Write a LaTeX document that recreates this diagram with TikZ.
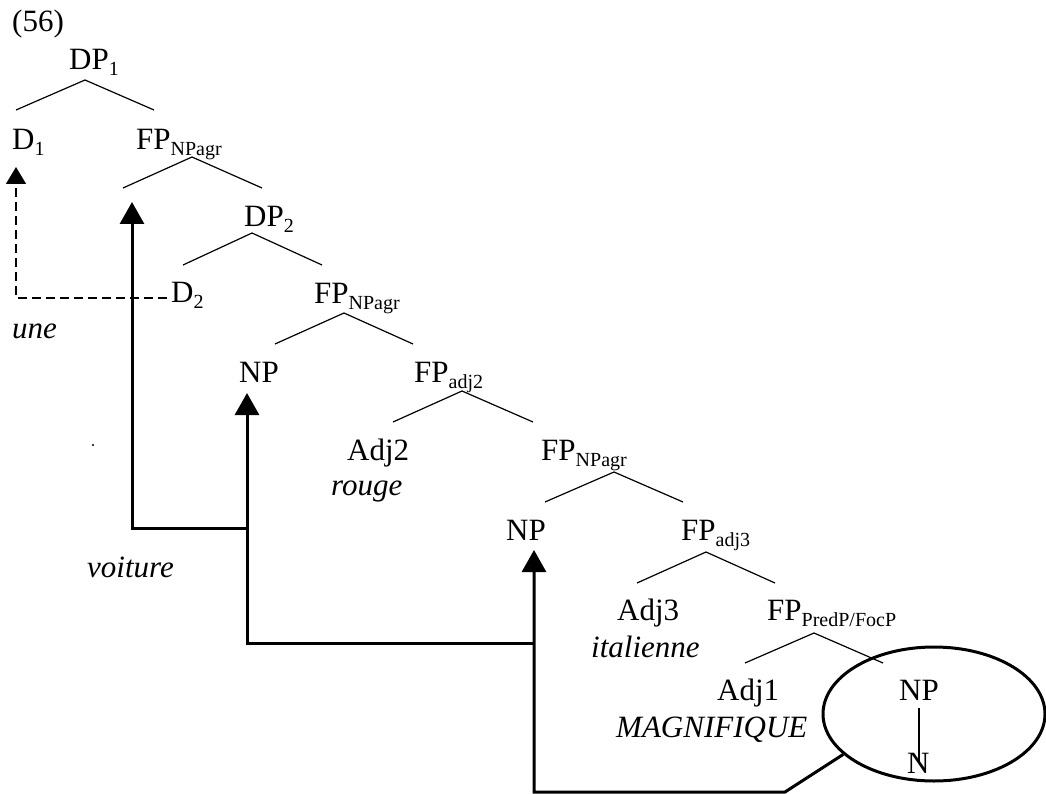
\documentclass[tikz,border=0pt]{standalone}
\usepackage{fontspec}
\setmainfont{Liberation Serif}
\usetikzlibrary{arrows.meta,shapes.geometric}
\newcommand\lsub[1]{\raisebox{-6pt}{\fontsize{20}{20}\selectfont #1}}
\tikzset{
    cat/.style={anchor=base west, inner sep=0pt, font=\fontsize{31}{36}\selectfont},
    lex/.style={cat, font=\fontsize{31}{36}\selectfont\itshape},
    branch/.style={line width=1.2pt},
    mvline/.style={line width=3pt, -{Triangle[length=22pt,width=24pt]}},
    dashmv/.style={line width=1.5pt, dash pattern=on 9pt off 5pt, -{Triangle[length=17pt,width=20pt]}}
}
\begin{document}
\begin{tikzpicture}[x=1pt,y=-1pt]
            \useasboundingbox (0,0) rectangle (1046,794);
            \node[cat] (ex) at (12,32) {(56)};
            \node[cat] (DPa) at (69,70) {DP\lsub{1}};
            \node[cat] (Da) at (12,150) {D\lsub{1}};
            \node[cat] (FPa) at (136,150) {FP\lsub{NPagr}};
            \node[cat] (DPb) at (244,227) {DP\lsub{2}};
            \node[cat] (Db) at (171,302) {D\lsub{2}};
            \node[lex] (une) at (12,338) {une};
            \node[cat] (FPb) at (314,303) {FP\lsub{NPagr}};
            \node[cat] (NPa) at (239,382) {NP};
            \node[cat] (FPc) at (414,382) {FP\lsub{adj2}};
            \node[cat] (Adjb) at (347,460) {Adj2};
            \node[lex] (rouge) at (331,495) {rouge};
            \node[cat] (FPd) at (541,460) {FP\lsub{NPagr}};
            \node[cat] (NPb) at (506,540) {NP};
            \node[cat] (FPe) at (681,540) {FP\lsub{adj3}};
            \node[cat] (Adjc) at (617,620) {Adj3};
            \node[lex] (ital) at (591,657) {italienne};
            \node[cat] (FPf) at (767,620) {FP\lsub{PredP/FocP}};
            \node[cat] (Adja) at (717,700) {Adj1};
            \node[lex] (magn) at (616,737) {MAGNIFIQUE};
            \node[cat] (NPc) at (899,700) {NP};
            \node[cat] (Nn) at (907,773) {N};
            \node[lex] (voit) at (87,577) {voiture};
            \fill (93,445) circle (1.2pt);
            % tree branches
            \draw[branch] ([shift={(4,-40)}]Da.base west) -- ([shift={(16,10)}]DPa.base west) -- ([shift={(18,-40)}]FPa.base west);
            \draw[branch] ([shift={(-13,38)}]FPa.base west) -- ([shift={(56,7)}]FPa.base west) -- ([shift={(18,-39)}]DPb.base west);
            \draw[branch] ([shift={(12,-37)}]Db.base west) -- ([shift={(8,6)}]DPb.base west) -- ([shift={(8,-38)}]FPb.base west);
            \draw[branch] ([shift={(36,-38)}]NPa.base west) -- ([shift={(30,10)}]FPb.base west) -- ([shift={(-1,-38)}]FPc.base west);
            \draw[branch] ([shift={(46,-38)}]Adjb.base west) -- ([shift={(48,9)}]FPc.base west) -- ([shift={(-8,-38)}]FPd.base west);
            \draw[branch] ([shift={(39,-38)}]NPb.base west) -- ([shift={(73,12)}]FPd.base west) -- ([shift={(2,-38)}]FPe.base west);
            \draw[branch] ([shift={(20,-37)}]Adjc.base west) -- ([shift={(25,12)}]FPe.base west) -- ([shift={(8,-37)}]FPf.base west);
            \draw[branch] ([shift={(28,-37)}]Adja.base west) -- ([shift={(47,13)}]FPf.base west) -- ([shift={(-16,-37)}]NPc.base west);
            \draw[branch] ([shift={(20,8)}]NPc.base west) -- ([shift={(12,-10)}]Nn.base west);
            \node[draw, ellipse, line width=3pt, minimum width=222pt, minimum height=134pt, inner sep=0pt] (ell) at (934,714) {};
            % movement
            \coordinate (ja) at (247,528);
            \coordinate (jb) at (534,643);
            \coordinate (jc) at (785,792);
            \draw[dashmv] ([shift={(-4,-4)}]Db.base west) -| ([shift={(4,17)}]Da.base west);
            \draw[mvline] (ell.204) -- (jc) -| ([shift={(28,10)}]NPb.base west);
            \draw[mvline] (jb) -| ([shift={(8,11)}]NPa.base west);
            \draw[mvline] (ja) -| ([shift={(-4,52)}]FPa.base west);
        \end{tikzpicture}
\end{document}
